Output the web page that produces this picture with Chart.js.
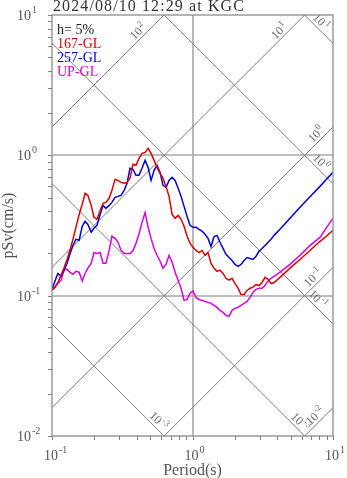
<!DOCTYPE html>
<html>
<head>
<meta charset="utf-8">
<script src="https://cdn.jsdelivr.net/npm/chart.js@4.4.0/dist/chart.umd.min.js"></script>
<style>
  html, body { margin: 0; padding: 0; background: #fff; }
  canvas { display: block; }
</style>
</head>
<body>
<canvas id="spec" width="347" height="478"></canvas>
<script>
// Pseudo-velocity response spectra, h = 5 %
const titleText = '2024/08/10 12:29 at KGC';
const dampingText = 'h= 5%';
const seriesNames = ['167-GL', '257-GL', 'UP-GL'];
const seriesColors = ['#dd0000', '#0000dd', '#dd00dd'];

// period (s)
const periods = [
  0.100, 0.105, 0.110, 0.116, 0.122, 0.128, 0.134, 0.141, 0.148, 0.156,
  0.164, 0.172, 0.180, 0.190, 0.199, 0.209, 0.220, 0.231, 0.242, 0.255,
  0.267, 0.281, 0.295, 0.310, 0.326, 0.342, 0.359, 0.377, 0.396, 0.416,
  0.437, 0.460, 0.483, 0.507, 0.533, 0.559, 0.588, 0.617, 0.648, 0.681,
  0.716, 0.752, 0.790, 0.829, 0.871, 0.915, 0.961, 1.008, 1.059, 1.113,
  1.169, 1.228, 1.290, 1.355, 1.423, 1.495, 1.570, 1.649, 1.732, 1.820,
  1.911, 2.008, 2.109, 2.215, 2.327, 2.444, 2.567, 2.697, 2.833, 2.975,
  3.125, 3.283, 3.448, 3.622, 3.805, 4.196, 4.943, 5.823, 6.861, 8.083,
  8.915, 10.0
];

// pSv (cm/s) per component
const sv167 = [
  0.110, 0.115, 0.124, 0.140, 0.159, 0.181, 0.210, 0.252, 0.307, 0.379,
  0.447, 0.536, 0.519, 0.440, 0.362, 0.350, 0.405, 0.455, 0.462, 0.494,
  0.563, 0.674, 0.663, 0.642, 0.632, 0.642, 0.686, 0.863, 0.849, 0.952,
  1.033, 1.050, 1.122, 1.033, 0.921, 0.821, 0.744, 0.686, 0.601, 0.510,
  0.379, 0.356, 0.373, 0.350, 0.312, 0.265, 0.236, 0.221, 0.210, 0.203,
  0.210, 0.194, 0.203, 0.170, 0.157, 0.149, 0.152, 0.144, 0.133, 0.129,
  0.133, 0.122, 0.113, 0.102, 0.102, 0.109, 0.113, 0.115, 0.120, 0.118,
  0.124, 0.135, 0.131, 0.122, 0.124, 0.135, 0.157, 0.181, 0.210, 0.244,
  0.264, 0.292
];
const sv257 = [
  0.110, 0.127, 0.144, 0.138, 0.152, 0.170, 0.197, 0.228, 0.252, 0.248,
  0.312, 0.339, 0.322, 0.283, 0.302, 0.317, 0.379, 0.440, 0.419, 0.440,
  0.462, 0.502, 0.510, 0.519, 0.563, 0.632, 0.808, 0.795, 0.720, 0.720,
  0.808, 0.921, 0.821, 0.663, 0.782, 0.849, 0.756, 0.611, 0.591, 0.663,
  0.697, 0.663, 0.582, 0.510, 0.433, 0.367, 0.317, 0.307, 0.307, 0.297,
  0.288, 0.274, 0.256, 0.224, 0.264, 0.269, 0.240, 0.217, 0.197, 0.187,
  0.178, 0.167, 0.162, 0.167, 0.178, 0.187, 0.184, 0.181, 0.191, 0.207,
  0.217, 0.228, 0.240, 0.252, 0.269, 0.297, 0.356, 0.426, 0.506, 0.601,
  0.669, 0.756
];
const svUP = [
  0.110, 0.115, 0.122, 0.129, 0.154, 0.154, 0.147, 0.142, 0.149, 0.147,
  0.127, 0.144, 0.157, 0.170, 0.203, 0.200, 0.203, 0.170, 0.170, 0.210,
  0.265, 0.256, 0.240, 0.210, 0.200, 0.200, 0.200, 0.210, 0.236, 0.274,
  0.333, 0.392, 0.307, 0.256, 0.217, 0.194, 0.176, 0.157, 0.167, 0.194,
  0.173, 0.147, 0.129, 0.113, 0.0926, 0.094, 0.104, 0.108, 0.097, 0.094,
  0.0926, 0.091, 0.0896, 0.0881, 0.0853, 0.0825, 0.0786, 0.0760, 0.0724, 0.0712,
  0.0786, 0.0812, 0.0825, 0.0853, 0.0881, 0.091, 0.0972, 0.106, 0.111, 0.113,
  0.113, 0.118, 0.127, 0.133, 0.137, 0.147, 0.167, 0.194, 0.228, 0.260,
  0.302, 0.356
];
const seriesValues = [sv167, sv257, svUP];

// axis decades (exponents) for tick labels
const xDecades = [-1, 0, 1];
const yDecades = [-2, -1, 0, 1];

// tripartite guide lines: constant pSa (gal) and constant Sd (cm)
const accelLevels = [0.01, 0.1, 1, 10, 100];
const accelLabelExp = ['-2', '-1', '0', '1', '2'];
const accelLabelPeriod = [8.07, 7.82, 8.22, 4.48, 0.444];
const dispLevels = [0.001, 0.01, 0.1, 1, 10];
const dispLabelExp = ['-3', '-3', '-1', '0', '1'];
const dispLabelPeriod = [0.53, 5.4, 7.2, 7.6, 7.6];

const FONT = '"Liberation Serif", "Times New Roman", serif';
const TWO_PI = 2 * Math.PI;

function powerLabel(ctx, exp, x, y, size, expSize, raise, anchor) {
  ctx.font = size + 'px ' + FONT;
  const wb = ctx.measureText('10').width;
  ctx.font = expSize + 'px ' + FONT;
  const we = ctx.measureText(exp).width;
  let x0 = x;
  if (anchor === 'base-center') x0 = x - wb / 2;
  else if (anchor === 'center') x0 = x - (wb + 1 + we) / 2;
  ctx.textAlign = 'left';
  ctx.textBaseline = 'alphabetic';
  ctx.font = size + 'px ' + FONT;
  ctx.fillText('10', x0, y);
  ctx.font = expSize + 'px ' + FONT;
  ctx.fillText(exp, x0 + wb + 1, y - raise);
}

const tripartite = {
  id: 'tripartite',
  beforeDatasetsDraw(chart) {
    const { ctx, chartArea: a, scales: { x, y } } = chart;
    ctx.save();
    ctx.beginPath();
    ctx.rect(a.left, a.top, a.right - a.left, a.bottom - a.top);
    ctx.clip();

    // decade grid
    ctx.strokeStyle = '#a8a8a8';
    ctx.lineWidth = 1.6;
    ctx.beginPath();
    [1].forEach(v => {
      const px = Math.round(x.getPixelForValue(v));
      ctx.moveTo(px, a.top); ctx.lineTo(px, a.bottom);
    });
    [0.1, 1].forEach(v => {
      const py = Math.round(y.getPixelForValue(v));
      ctx.moveTo(a.left, py); ctx.lineTo(a.right, py);
    });
    ctx.stroke();

    // diagonal guides
    ctx.strokeStyle = '#7c7c7c';
    ctx.lineWidth = 1;
    const T0 = 0.1, T1 = 10;
    accelLevels.forEach(sa => {
      const f = T => sa * T / TWO_PI;
      ctx.beginPath();
      ctx.moveTo(x.getPixelForValue(T0), y.getPixelForValue(f(T0)));
      ctx.lineTo(x.getPixelForValue(T1), y.getPixelForValue(f(T1)));
      ctx.stroke();
    });
    dispLevels.forEach(sd => {
      const f = T => TWO_PI * sd / T;
      ctx.beginPath();
      ctx.moveTo(x.getPixelForValue(T0), y.getPixelForValue(f(T0)));
      ctx.lineTo(x.getPixelForValue(T1), y.getPixelForValue(f(T1)));
      ctx.stroke();
    });

    // guide labels
    ctx.fillStyle = '#6e6e6e';
    accelLevels.forEach((sa, i) => {
      const T = accelLabelPeriod[i];
      const px = x.getPixelForValue(T);
      const py = y.getPixelForValue(sa * T / TWO_PI);
      ctx.save();
      ctx.translate(px - 5, py - 5);
      ctx.rotate(-Math.PI / 4);
      powerLabel(ctx, accelLabelExp[i], 0, 4, 12, 9, 5, 'center');
      ctx.restore();
    });
    dispLevels.forEach((sd, i) => {
      const T = dispLabelPeriod[i];
      const px = x.getPixelForValue(T);
      const py = y.getPixelForValue(TWO_PI * sd / T);
      ctx.save();
      ctx.translate(px + 5, py - 5);
      ctx.rotate(Math.PI / 4);
      powerLabel(ctx, dispLabelExp[i], 0, 4, 12, 9, 5, 'center');
      ctx.restore();
    });
    ctx.restore();
  },
  afterDraw(chart) {
    const { ctx, chartArea: a, scales: { x, y } } = chart;
    ctx.save();

    // frame
    ctx.strokeStyle = '#8c8c8c';
    ctx.lineWidth = 1.3;
    ctx.strokeRect(a.left, a.top, a.right - a.left, a.bottom - a.top);

    // tick marks (outward)
    ctx.strokeStyle = '#808080';
    ctx.lineWidth = 1;
    ctx.beginPath();
    for (let e = -2; e <= 0; e++) {
      for (let m = 1; m <= 10; m++) {
        const py = Math.round(y.getPixelForValue(m * Math.pow(10, e))) + 0.5;
        ctx.moveTo(a.left - 4, py); ctx.lineTo(a.left, py);
      }
    }
    for (let e = -1; e <= 0; e++) {
      for (let m = 1; m <= 10; m++) {
        const px = Math.round(x.getPixelForValue(m * Math.pow(10, e))) + 0.5;
        ctx.moveTo(px, a.bottom); ctx.lineTo(px, a.bottom + 4);
      }
    }
    ctx.stroke();

    // tick labels
    ctx.fillStyle = '#555';
    yDecades.forEach(e => {
      const py = y.getPixelForValue(Math.pow(10, e));
      powerLabel(ctx, String(e), 17, py + 5, 14, 10, 7, 'left');
    });
    xDecades.forEach(e => {
      const px = x.getPixelForValue(Math.pow(10, e));
      powerLabel(ctx, String(e), px - 1, 460, 14, 10, 7, 'base-center');
    });

    // axis titles
    ctx.font = '16px ' + FONT;
    ctx.textAlign = 'center';
    ctx.textBaseline = 'alphabetic';
    ctx.fillText('Period(s)', (a.left + a.right) / 2, 475);
    ctx.save();
    ctx.translate(12.5, (a.top + a.bottom) / 2);
    ctx.rotate(-Math.PI / 2);
    ctx.fillText('pSv(cm/s)', 0, 0);
    ctx.restore();

    // title
    ctx.fillStyle = '#333';
    ctx.textAlign = 'left';
    ctx.letterSpacing = '1.1px';
    ctx.fillText(titleText, 53, 11);
    ctx.letterSpacing = '0px';

    // legend
    ctx.font = '14px ' + FONT;
    ctx.fillStyle = '#222';
    ctx.fillText(dampingText, 57, 34);
    seriesNames.forEach((name, i) => {
      ctx.fillStyle = seriesColors[i];
      ctx.fillText(name, 57, 48 + 14 * i);
    });
    ctx.restore();
  }
};

new Chart(document.getElementById('spec'), {
  type: 'line',
  data: {
    datasets: seriesNames.map((name, i) => ({
      label: name,
      data: periods.map((t, k) => ({ x: t, y: seriesValues[i][k] })),
      borderColor: seriesColors[i],
      borderWidth: 1.5,
      pointRadius: 0,
      fill: false,
      tension: 0
    }))
  },
  options: {
    responsive: false,
    animation: false,
    devicePixelRatio: 1,
    layout: { padding: { left: 52, right: 14, top: 15, bottom: 42 } },
    plugins: { legend: { display: false }, tooltip: { enabled: false }, title: { display: false } },
    scales: {
      x: { type: 'logarithmic', min: 0.1, max: 10, display: false },
      y: { type: 'logarithmic', min: 0.01, max: 10, display: false }
    }
  },
  plugins: [tripartite]
});
</script>
</body>
</html>
